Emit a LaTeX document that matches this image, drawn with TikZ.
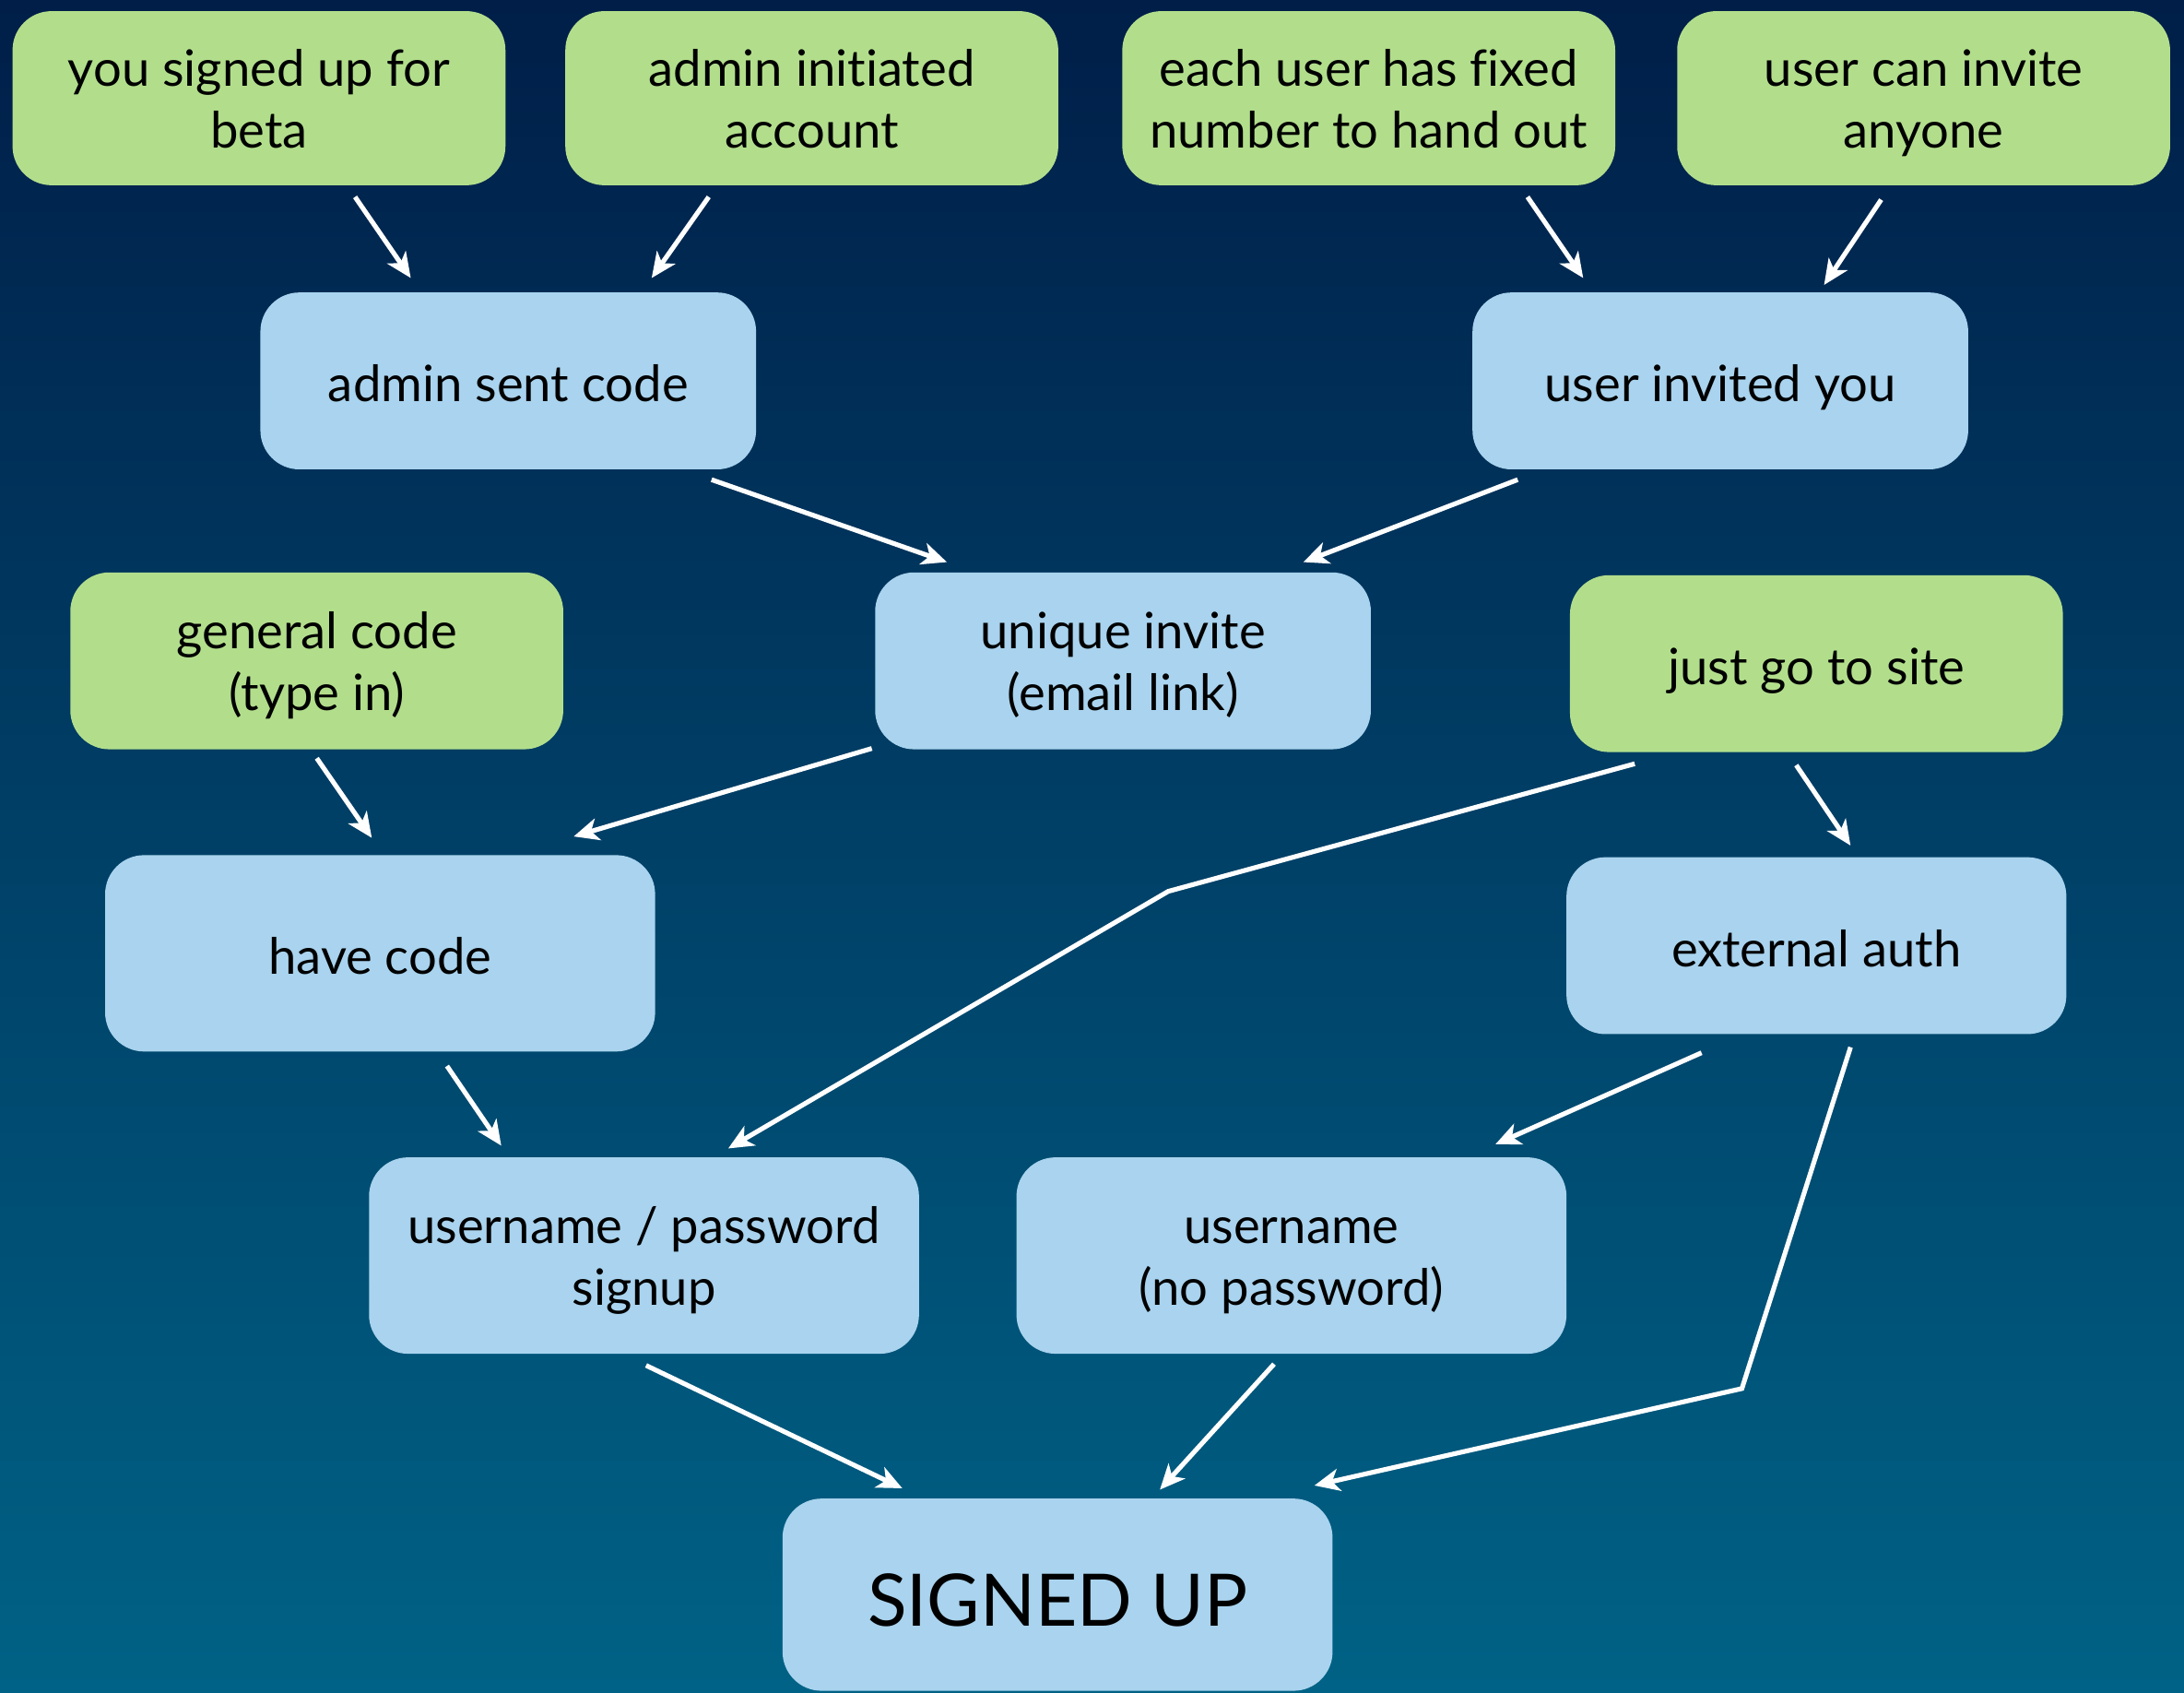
\documentclass[tikz,border=0pt]{standalone}
\usepackage{fontspec}
\setmainfont{Lato}[Ligatures=NoCommon]
\usetikzlibrary{arrows.meta,calc}
\definecolor{SkyTop}{RGB}{0,30,72}
\definecolor{SkyBottom}{RGB}{0,98,134}
\definecolor{LeafGreen}{RGB}{178,222,140}
\definecolor{PaleBlue}{RGB}{169,211,238}
\begin{document}
\begin{tikzpicture}[x=.5pt,y=-.5pt]
          \tikzset{BoxStyle/.style = {
              rounded corners = 14pt,
              align = center,
              inner sep = 0pt,
              text height = 17pt,
              text depth = 2pt,
              font = \fontsize{18}{22}\selectfont},
            TwoLines/.style = {text height = 37.5pt},
            GreenBox/.style = {BoxStyle, fill = LeafGreen,
              minimum width = 177pt, minimum height = 62.5pt},
            BlueBox/.style = {BoxStyle, fill = PaleBlue,
              minimum width = 178pt, minimum height = 63.5pt},
            WideBox/.style = {BoxStyle, fill = PaleBlue,
              minimum width = 197.5pt, minimum height = 70.5pt},
            ArrowStyle/.style = {
              draw = white,
              line width = 1.7pt,
              -{Stealth[length=9pt,width=8pt,inset=2.5pt]}}}
          \clip (0,0) rectangle (1568.5,1215);
          \shade[top color=SkyTop,bottom color=SkyBottom]
            (0,0) rectangle (1568.5,1215);
          %% top row
          \node[GreenBox,TwoLines] (beta) at (186,70.5) {you signed up for\\beta};
          \node[GreenBox,TwoLines] (account) at (583,70.5) {admin initiated\\account};
          \node[GreenBox,TwoLines] (fixed) at (983,70.5) {each user has fixed\\number to hand out};
          \node[GreenBox,TwoLines] (anyone) at (1381.5,70.5) {user can invite\\anyone};
          %% invites
          \node[BlueBox] (sent) at (365,273.5) {admin sent code};
          \node[BlueBox] (invited) at (1235.5,273.5) {user invited you};
          \node[GreenBox,TwoLines,minimum height=63.5pt] (general) at (227.5,474.5) {general code\\(type in)};
          \node[BlueBox,TwoLines] (unique) at (806.5,474.5) {unique invite\\(email link)};
          \node[GreenBox,minimum height=63.5pt] (site) at (1304.5,476.5) {just go to site};
          %% signup
          \node[WideBox] (have) at (273,684.5) {have code};
          \node[BlueBox,minimum width=179.5pt] (external) at (1304.5,679) {external auth};
          \node[WideBox,TwoLines] (pwsignup) at (462.5,901.5) {username / password\\signup};
          \node[WideBox,TwoLines] (nopw) at (927.5,901.5) {username\\(no password)};
          \node[WideBox,minimum height=69pt,text height=24.5pt,
            font=\fontsize{26}{30}\selectfont] (signed) at (759.5,1145) {SIGNED UP};
          \coordinate (bendA) at (839,640);
          \coordinate (bendB) at (1251,997);
          \draw[ArrowStyle] ($(beta.south)+(69,8)$) -- ($(sent.north)+(-70,-10)$);
          \draw[ArrowStyle] ($(account.south)+(-74,8)$) -- ($(sent.north)+(103,-10)$);
          \draw[ArrowStyle] ($(fixed.south)+(114,8)$) -- ($(invited.north)+(-98.5,-10)$);
          \draw[ArrowStyle] ($(anyone.south)+(-30.5,10)$) -- ($(invited.north)+(74.5,-5)$);
          \draw[ArrowStyle] ($(sent.south)+(146,7)$) -- ($(unique.north)+(-126.5,-7)$);
          \draw[ArrowStyle] ($(invited.south)+(-145.5,7)$) -- ($(unique.north)+(129.5,-7)$);
          \draw[ArrowStyle] ($(unique.south west)+(-2,-1)$) -- ($(have.north)+(139,-13)$);
          \draw[ArrowStyle] ($(general.south)+(0,6)$) -- ($(have.north)+(-6,-12)$);
          \draw[ArrowStyle] ($(site.south)+(-130.5,8)$) -- (bendA) -- ($(pwsignup.north)+(60.5,-6)$);
          \draw[ArrowStyle] ($(site.south)+(-14.5,9)$) -- ($(external.north)+(24.5,-8)$);
          \draw[ArrowStyle] ($(have.south)+(48,10)$) -- ($(pwsignup.north)+(-102.5,-8)$);
          \draw[ArrowStyle] ($(external.south)+(-82.5,13)$) -- ($(nopw.north)+(146.5,-9)$);
          \draw[ArrowStyle] ($(external.south)+(24.5,9)$) -- (bendB) -- ($(signed.north)+(184.5,-9)$);
          \draw[ArrowStyle] ($(pwsignup.south)+(1.5,8)$) -- ($(signed.north)+(-111.5,-7)$);
          \draw[ArrowStyle] ($(nopw.south)+(-12.5,7)$) -- ($(signed.north)+(73.5,-6)$);
        \end{tikzpicture}
\end{document}
